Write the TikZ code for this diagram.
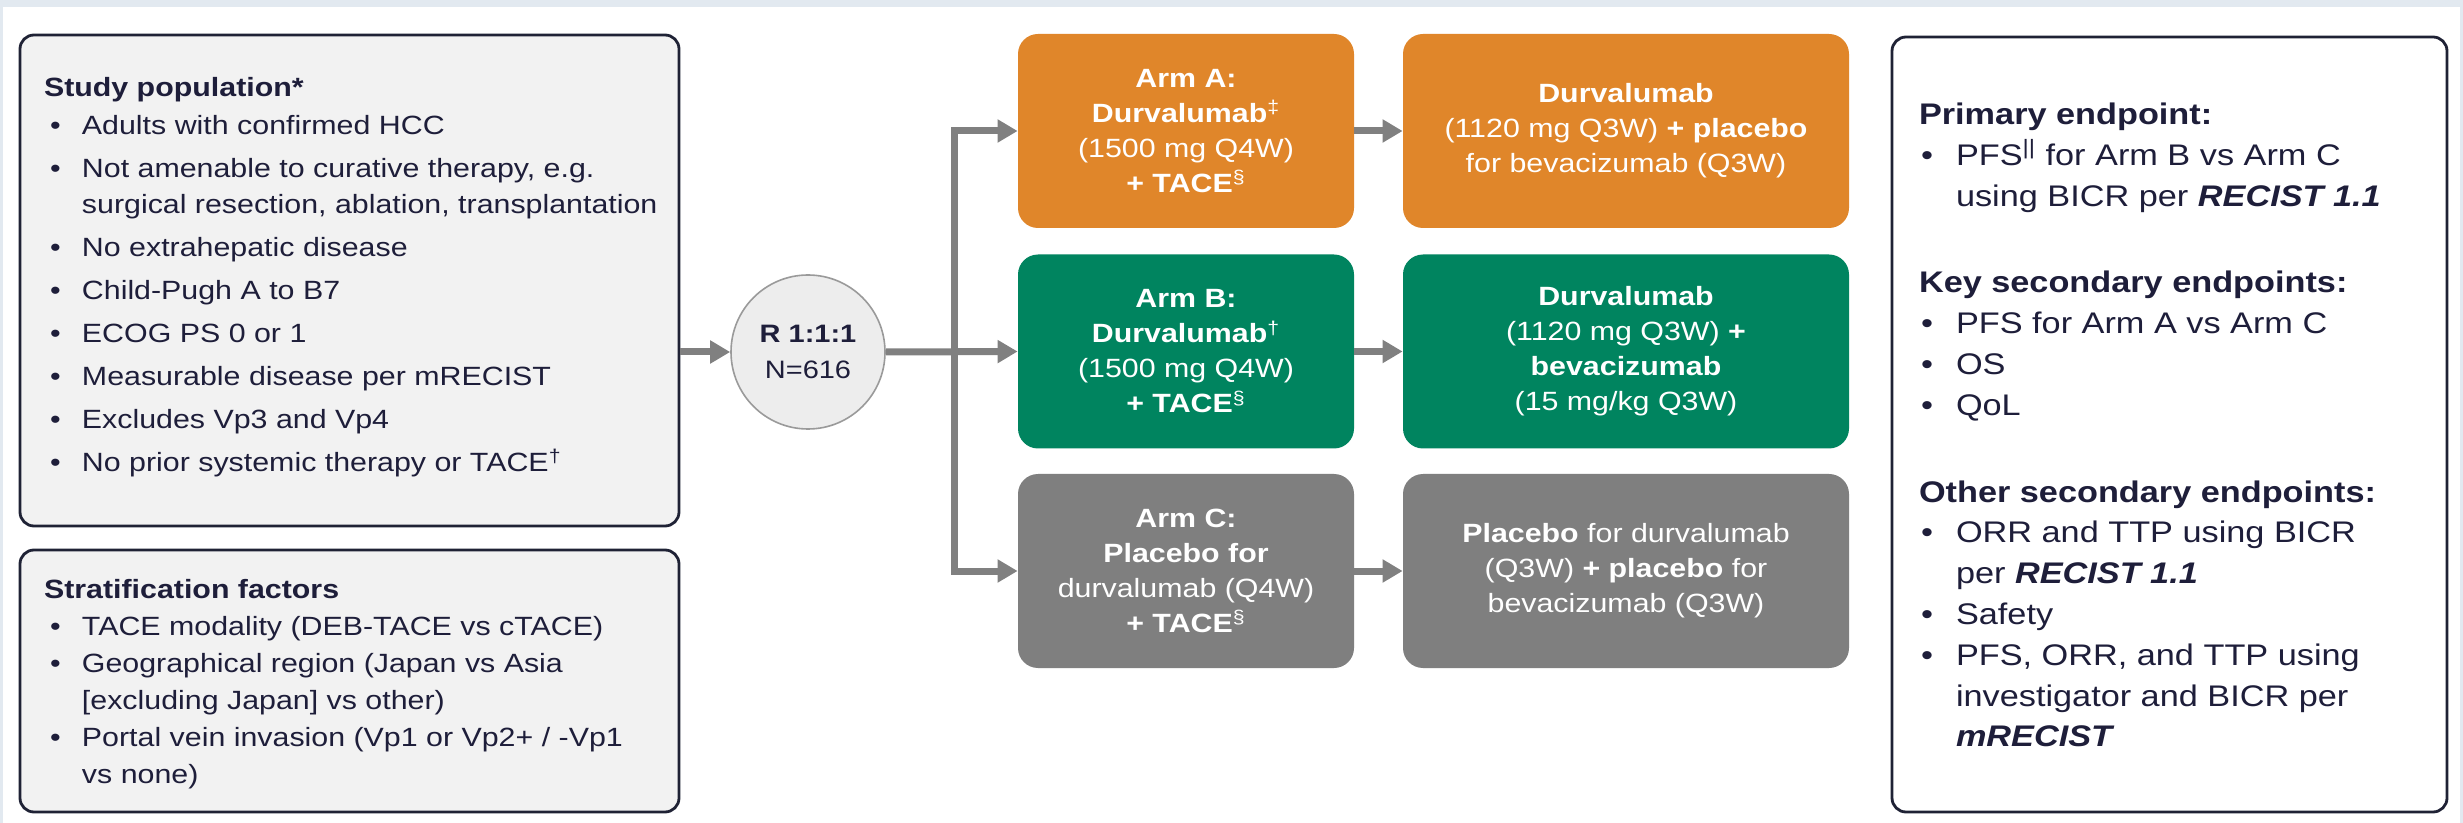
\documentclass[tikz,border=0pt]{standalone}
\usepackage{fontspec}
\setmainfont{Liberation Sans}[FakeStretch=1.15]
\usetikzlibrary{arrows.meta}
\definecolor{bgblue}{HTML}{E2E9F0}
\definecolor{boxline}{HTML}{1F2235}
\definecolor{boxfill}{HTML}{F2F2F2}
\definecolor{txtdark}{HTML}{1E1E3A}
\definecolor{armorange}{HTML}{E0862A}
\definecolor{armgreen}{HTML}{00845F}
\definecolor{armgrey}{HTML}{7F7F7F}
\definecolor{arrowgrey}{HTML}{808080}
\definecolor{circfill}{HTML}{EDEDED}
\definecolor{circline}{HTML}{9A9A9A}
\newcommand{\bul}{\makebox[19pt][l]{\hspace{3pt}•}}
\newcommand{\ind}{\hspace*{19pt}}
\newcommand{\bulE}{\makebox[18.5pt][l]{\hspace{1pt}•}}
\newcommand{\indE}{\hspace*{18.5pt}}
\newcommand{\armfont}{\fontsize{13.2}{17.5}\selectfont}
\newcommand{\listfont}{\fontsize{13.2}{18}\selectfont}
\newcommand{\stratfont}{\fontsize{13.2}{18.5}\selectfont}
\newcommand{\epfont}{\fontsize{14.9}{20.4}\selectfont}
\newcommand{\circfont}{\fontsize{12.6}{18}\selectfont}
\begin{document}
\begin{tikzpicture}[x=0.5pt,y=-0.5pt,
  infobox/.style={draw=boxline, line width=1.4pt, rounded corners=7pt, inner sep=0},
  armbox/.style={rounded corners=10pt, minimum width=168pt, minimum height=97pt,
    inner sep=0, text=white, align=center, font=\armfont},
  resbox/.style={armbox, minimum width=223pt},
  txt/.style={inner sep=0, align=left, text=txtdark, anchor=north west},
  arr/.style={draw=arrowgrey, line width=3.5pt,
    -{Triangle[length=10pt,width=11pt]}, arrowgrey}
]
\useasboundingbox (0,0) rectangle (2463,823);
\fill[bgblue] (0,0) rectangle (2463,823);
\fill[white] (3,7) rectangle (2460,823);

% left boxes
\node[infobox, fill=boxfill, minimum width=329.5pt, minimum height=245.5pt] (study) at (349.5,280.5) {};
\node[txt, font=\listfont] (studytxt) at ([shift={(25,43)}]study.north west) {%
\textbf{Study population*}\\[1pt]
\bul Adults with confirmed HCC\\[3.5pt]
\bul Not amenable to curative therapy, e.g.\\
\ind surgical resection, ablation, transplantation\\[3.5pt]
\bul No extrahepatic disease\\[3.5pt]
\bul Child-Pugh A to B7\\[3.5pt]
\bul ECOG PS 0 or 1\\[3.5pt]
\bul Measurable disease per mRECIST\\[3.5pt]
\bul Excludes Vp3 and Vp4\\[3.5pt]
\bul No prior systemic therapy or TACE\textsuperscript{†}};

\node[infobox, fill=boxfill, minimum width=329.5pt, minimum height=131pt] (strat) at (349.5,681) {};
\node[txt, font=\stratfont] (strattxt) at ([shift={(25,30)}]strat.north west) {%
\textbf{Stratification factors}\\
\bul TACE modality (DEB-TACE vs cTACE)\\
\bul Geographical region (Japan vs Asia\\
\ind [excluding Japan] vs other)\\
\bul Portal vein invasion (Vp1 or Vp2+ / -Vp1\\
\ind vs none)};

% randomisation
\node[circle, fill=circfill, draw=circline, line width=0.8pt, minimum size=77pt,
  inner sep=0, align=center, font=\circfont, text=txtdark] (circ) at (808,352)
  {\textbf{R 1:1:1}\\N=616};

% arms
\node[armbox, fill=armorange] (armA) at (1186,131)
  {\textbf{Arm A:}\\\textbf{Durvalumab}\textsuperscript{‡}\\(1500 mg Q4W)\\\textbf{+ TACE}\textsuperscript{§}};
\node[armbox, fill=armgreen] (armB) at (1186,351.5)
  {\textbf{Arm B:}\\\textbf{Durvalumab}\textsuperscript{†}\\(1500 mg Q4W)\\\textbf{+ TACE}\textsuperscript{§}};
\node[armbox, fill=armgrey] (armC) at (1186,571)
  {\textbf{Arm C:}\\\textbf{Placebo for}\\durvalumab (Q4W)\\\textbf{+ TACE}\textsuperscript{§}};

\node[resbox, fill=armorange] (rA) at (1626,131)
  {\textbf{Durvalumab}\\(1120 mg Q3W) \textbf{+ placebo}\\for bevacizumab (Q3W)};
\node[resbox, fill=armgreen] (rB) at (1626,351.5)
  {\textbf{Durvalumab}\\(1120 mg Q3W) \textbf{+}\\\textbf{bevacizumab}\\(15 mg/kg Q3W)};
\node[resbox, fill=armgrey] (rC) at (1626,571)
  {\textbf{Placebo} for durvalumab\\(Q3W) \textbf{+ placebo} for\\bevacizumab (Q3W)};

% endpoints
\node[infobox, fill=white, minimum width=277.5pt, minimum height=387.5pt] (endp) at (2169.5,424.5) {};
\node[txt, font=\epfont] (endptxt) at ([shift={(28,67)}]endp.north west) {%
\textbf{Primary endpoint:}\\
\bulE PFS\textsuperscript{||} for Arm B vs Arm C\\
\indE using BICR per \textbf{\textit{RECIST 1.1}}\\[23pt]
\textbf{Key secondary endpoints:}\\
\bulE PFS for Arm A vs Arm C\\
\bulE OS\\
\bulE QoL\\[23pt]
\textbf{Other secondary endpoints:}\\
\bulE ORR and TTP using BICR\\
\indE per \textbf{\textit{RECIST 1.1}}\\
\bulE Safety\\
\bulE PFS, ORR, and TTP using\\
\indE investigator and BICR per\\
\indE \textbf{\textit{mRECIST}}};

% connectors
\coordinate (split) at (954,352);
\draw[arr] (study.east |- circ.west) -- (circ.west);
\draw[arr] (circ.east) -- (armB.west);
\draw[arr] (split) |- (armA.west);
\draw[arr] (split) |- (armC.west);
\draw[arr] (armA.east) -- (armA.east -| rA.west);
\draw[arr] (armB.east) -- (armB.east -| rB.west);
\draw[arr] (armC.east) -- (armC.east -| rC.west);
\end{tikzpicture}
\end{document}
